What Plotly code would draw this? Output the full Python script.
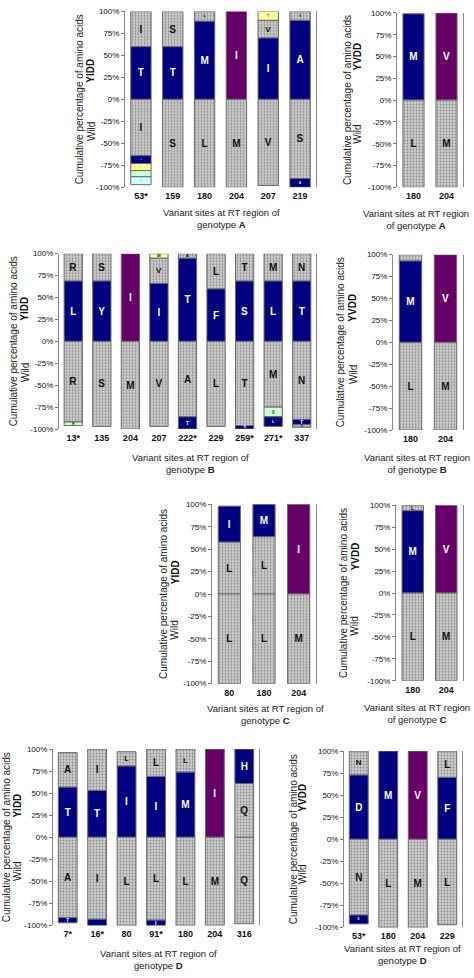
import plotly.graph_objects as go

# ------------------------------------------------------------------ data
# each segment: (amino acid, percent, kind)
#   kind: "mut" = mutant residue, "m204" = rtM204 mutant, "wt" = wild residue,
#         "yel"/"grn"/"cyn" = other minor residues
A_yidd_sites = ["53*", "159", "180", "204", "207", "219"]
A_yidd_up = [
    [("T", 60, "mut"), ("I", 40, "wt")],
    [("T", 60, "mut"), ("S", 40, "wt")],
    [("M", 89, "mut"), ("L", 11, "wt")],
    [("I", 100, "m204")],
    [("I", 70, "mut"), ("V", 20, "wt"), ("T", 10, "yel")],
    [("A", 90, "mut"), ("S", 10, "wt")],
]
A_yidd_low = [
    [("I", 64, "wt"), ("T", 9, "mut"), ("S", 8, "yel"), ("L", 7, "grn"), ("V", 9, "cyn")],
    [("S", 100, "wt")],
    [("L", 100, "wt")],
    [("M", 100, "wt")],
    [("V", 98, "wt")],
    [("S", 90, "wt"), ("A", 10, "mut")],
]

A_yvdd_sites = ["180", "204"]
A_yvdd_up = [[("M", 99, "mut")], [("V", 100, "m204")]]
A_yvdd_low = [[("L", 100, "wt")], [("M", 100, "wt")]]

B_yidd_sites = ["13*", "135", "204", "207", "222*", "229", "259*", "271*", "337"]
B_yidd_up = [
    [("L", 69, "mut"), ("R", 31, "wt")],
    [("Y", 69, "mut"), ("S", 31, "wt")],
    [("I", 100, "m204")],
    [("I", 66, "mut"), ("V", 29, "wt"), ("M", 5, "yel")],
    [("T", 95, "mut"), ("A", 5, "wt")],
    [("F", 60, "mut"), ("L", 40, "wt")],
    [("S", 69, "mut"), ("T", 31, "wt")],
    [("L", 69, "mut"), ("M", 31, "wt")],
    [("T", 69, "mut"), ("N", 31, "wt")],
]
B_yidd_low = [
    [("R", 92, "wt"), ("H", 4, "grn")],
    [("S", 97, "wt")],
    [("M", 100, "wt")],
    [("V", 97, "wt")],
    [("A", 86, "wt"), ("T", 14, "mut")],
    [("L", 97, "wt")],
    [("T", 96, "wt"), ("S", 4, "mut")],
    [("M", 75, "wt"), ("Q", 11, "grn"), ("L", 11, "mut")],
    [("N", 89, "wt"), ("T", 6, "mut"), ("N", 3, "wt")],
]

B_yvdd_sites = ["180", "204"]
B_yvdd_up = [[("M", 93, "mut"), ("L", 7, "wt")], [("V", 100, "m204")]]
B_yvdd_low = [[("L", 100, "wt")], [("M", 100, "wt")]]

C_yidd_sites = ["80", "180", "204"]
C_yidd_up = [
    [("L", 58, "wt"), ("I", 40, "mut")],
    [("L", 64, "wt"), ("M", 36, "mut")],
    [("I", 100, "m204")],
]
C_yidd_low = [[("L", 100, "wt")], [("L", 100, "wt")], [("M", 100, "wt")]]

C_yvdd_sites = ["180", "204"]
C_yvdd_up = [[("M", 94, "mut"), ("L", 6, "wt")], [("V", 100, "m204")]]
C_yvdd_low = [[("L", 100, "wt")], [("M", 100, "wt")]]

D_yidd_sites = ["7*", "16*", "80", "91*", "180", "204", "316"]
D_yidd_up = [
    [("T", 57, "mut"), ("A", 39, "wt")],
    [("T", 53, "mut"), ("I", 47, "wt")],
    [("I", 81, "mut"), ("L", 16, "wt")],
    [("I", 69, "mut"), ("L", 31, "wt")],
    [("M", 74, "mut"), ("L", 26, "wt")],
    [("I", 100, "m204")],
    [("Q", 61, "wt"), ("H", 39, "mut")],
]
D_yidd_low = [
    [("A", 91, "wt"), ("T", 6, "mut")],
    [("I", 93, "wt"), ("T", 7, "mut")],
    [("L", 100, "wt")],
    [("L", 94, "wt"), ("I", 6, "mut")],
    [("L", 100, "wt")],
    [("M", 100, "wt")],
    [("Q", 98, "wt")],
]

D_yvdd_sites = ["53*", "180", "204", "229"]
D_yvdd_up = [
    [("D", 73, "mut"), ("N", 27, "wt")],
    [("M", 100, "mut")],
    [("V", 100, "m204")],
    [("F", 70, "mut"), ("L", 30, "wt")],
]
D_yvdd_low = [
    [("N", 86, "wt"), ("D", 10, "mut")],
    [("L", 100, "wt")],
    [("M", 100, "wt")],
    [("L", 97, "wt")],
]

genotypes = ["A", "A", "B", "B", "C", "C", "D", "D"]
motifs = ["YIDD", "YVDD", "YIDD", "YVDD", "YIDD", "YVDD", "YIDD", "YVDD"]
wild_label = "Wild"
y_title = "Cumulative percentage of amino acids"
x_title_words = "Variant sites at RT region"
y_tick_vals = [100, 75, 50, 25, 0, -25, -50, -75, -100]
y_tick_text = ["100%", "75%", "50%", "25%", "0%", "-25%", "-50%", "-75%", "-100%"]

panel_data = [
    (A_yidd_sites, A_yidd_up, A_yidd_low),
    (A_yvdd_sites, A_yvdd_up, A_yvdd_low),
    (B_yidd_sites, B_yidd_up, B_yidd_low),
    (B_yvdd_sites, B_yvdd_up, B_yvdd_low),
    (C_yidd_sites, C_yidd_up, C_yidd_low),
    (C_yvdd_sites, C_yvdd_up, C_yvdd_low),
    (D_yidd_sites, D_yidd_up, D_yidd_low),
    (D_yvdd_sites, D_yvdd_up, D_yvdd_low),
]

# ------------------------------------------------------------------ layout (pixels)
W, H = 474, 978
# plot box: left, right, top, bottom
boxes = [
    (125, 316, 7.5, 185), (397, 463, 9, 185),
    (59, 316, 252, 429), (393, 463, 253, 430),
    (212, 316, 505, 686), (396, 463, 506, 683),
    (53, 259, 752, 930), (344, 462, 754, 932),
]
# y-title x, sub-label x, motif offset, wild offset
ylab = [
    (79, 91, -29, 33), (347, 358, -44, 35),
    (13, 25, -33, 32), (340, 353, -35, 33),
    (163, 175, -22, 37), (343, 355, -37, 34),
    (6, 18, -32, 35), (293, 303, -42, 36),
]
# x-title centre (x, y) and line break style
xlab = [
    (221, 216, 0), (416, 217, 1),
    (190, 464, 0), (417, 464, 1),
    (265, 717, 0), (417, 716, 1),
    (158, 964, 0), (402, 959, 0),
]

FONT = "Arial, Liberation Sans, sans-serif"
NAVY = "#000080"
PURPLE = "#660066"
GREY = "#cdcdcd"
KIND_COLOR = {"mut": NAVY, "m204": PURPLE, "wt": GREY,
              "yel": "#ffff99", "grn": "#ccffcc", "cyn": "#ccffff"}
KIND_TEXT = {"mut": "white", "m204": "white", "wt": "#111111",
             "yel": "#111111", "grn": "#111111", "cyn": "#111111"}


def px(x):
    return x / W


def py(y):
    return 1 - y / H


def text_size(v):
    if v >= 30:
        return 10
    if v >= 12:
        return 8
    return 6


fig = go.Figure()
annotations = []
layout_axes = {}

for i, ((sites, up, low), box) in enumerate(zip(panel_data, boxes), start=1):
    sfx = "" if i == 1 else str(i)
    xa, ya = "x" + sfx, "y" + sfx
    for sign, segs_all in ((1, up), (-1, low)):
        depth = max(len(s) for s in segs_all)
        for k in range(depth):
            xs, ys, tx, cols, shapes, tcols, tsz = [], [], [], [], [], [], []
            for site, segs in zip(sites, segs_all):
                if k < len(segs):
                    aa, v, kind = segs[k]
                    xs.append(site)
                    ys.append(sign * v)
                    tx.append(aa)
                    cols.append(KIND_COLOR[kind])
                    shapes.append("." if kind == "wt" else "")
                    tcols.append(KIND_TEXT[kind])
                    tsz.append(text_size(v))
            fig.add_trace(go.Bar(
                x=xs, y=ys, xaxis=xa, yaxis=ya, text=tx,
                textposition="inside", insidetextanchor="middle", textangle=0,
                textfont=dict(color=tcols, size=tsz, family=FONT, weight="bold"),
                marker=dict(color=cols, line=dict(color="#6a6a6a", width=1),
                            pattern=dict(shape=shapes, fillmode="overlay",
                                         fgcolor="#ececec", size=3, solidity=0.3)),
                width=0.64, showlegend=False,
            ))

    l, r, t, b = box
    xdom = [px(l), px(r)]
    ydom = [py(b), py(t)]
    zero = (t + b) / 2
    n = len(sites)
    layout_axes["xaxis" + sfx] = dict(
        domain=xdom, anchor=ya, type="category", categoryorder="array",
        categoryarray=sites, range=[-0.5, n - 0.5], showline=False, ticks="",
        showgrid=False, zeroline=False, ticklabelstandoff=2,
        tickfont=dict(size=9, family=FONT, color="#111", weight="bold"),
    )
    layout_axes["yaxis" + sfx] = dict(
        domain=ydom, anchor=xa, range=[-100, 100], tickmode="array",
        tickvals=y_tick_vals, ticktext=y_tick_text, ticks="outside", ticklen=3,
        tickcolor="#777", showline=True, linecolor="#8a8a8a", linewidth=1,
        mirror=True, showgrid=False, zeroline=False,
        tickfont=dict(size=8, family=FONT, color="#111"),
    )
    # zero line with boundary ticks
    layout_axes["xaxis" + str(8 + i)] = dict(
        overlaying=xa, anchor="free", position=py(zero), domain=xdom,
        range=[-0.5, n - 0.5], tickmode="array",
        tickvals=[j + 0.5 for j in range(n - 1)],
        ticks="inside", ticklen=3, tickcolor="#000", showticklabels=False,
        showline=True, linecolor="#000", linewidth=1.5, showgrid=False,
        zeroline=False, fixedrange=True,
    )

    cx, sx, dm, dw = ylab[i - 1]
    annotations.append(dict(x=px(cx), y=py(zero), xref="paper", yref="paper",
                            text=y_title, textangle=-90, showarrow=False,
                            xanchor="center", yanchor="middle",
                            font=dict(size=10, family=FONT, color="#222")))
    annotations.append(dict(x=px(sx), y=py(zero + dm), xref="paper", yref="paper",
                            text="<b>" + motifs[i - 1] + "</b>", textangle=-90,
                            showarrow=False, xanchor="center", yanchor="middle",
                            font=dict(size=10, family=FONT, color="#111")))
    annotations.append(dict(x=px(sx), y=py(zero + dw), xref="paper", yref="paper",
                            text=wild_label, textangle=-90, showarrow=False,
                            xanchor="center", yanchor="middle",
                            font=dict(size=10, family=FONT, color="#222")))
    tx_, ty_, style = xlab[i - 1]
    g = "<b>" + genotypes[i - 1] + "</b>"
    if style == 0:
        txt = x_title_words + " of<br>genotype " + g
    else:
        txt = x_title_words + "<br>of genotype " + g
    annotations.append(dict(x=px(tx_), y=py(ty_), xref="paper", yref="paper",
                            text=txt, showarrow=False, xanchor="center",
                            yanchor="middle", align="center",
                            font=dict(size=9.5, family=FONT, color="#222")))

fig.update_layout(
    width=W, height=H, margin=dict(l=0, r=0, t=0, b=0),
    barmode="relative", bargap=0.36,
    paper_bgcolor="white", plot_bgcolor="white",
    showlegend=False, annotations=annotations,
    font=dict(family=FONT),
    **layout_axes,
)

fig.write_html("out.html", config={"displayModeBar": False},
               post_script="document.body.style.margin='0';"
                           "document.body.style.overflow='hidden';")
